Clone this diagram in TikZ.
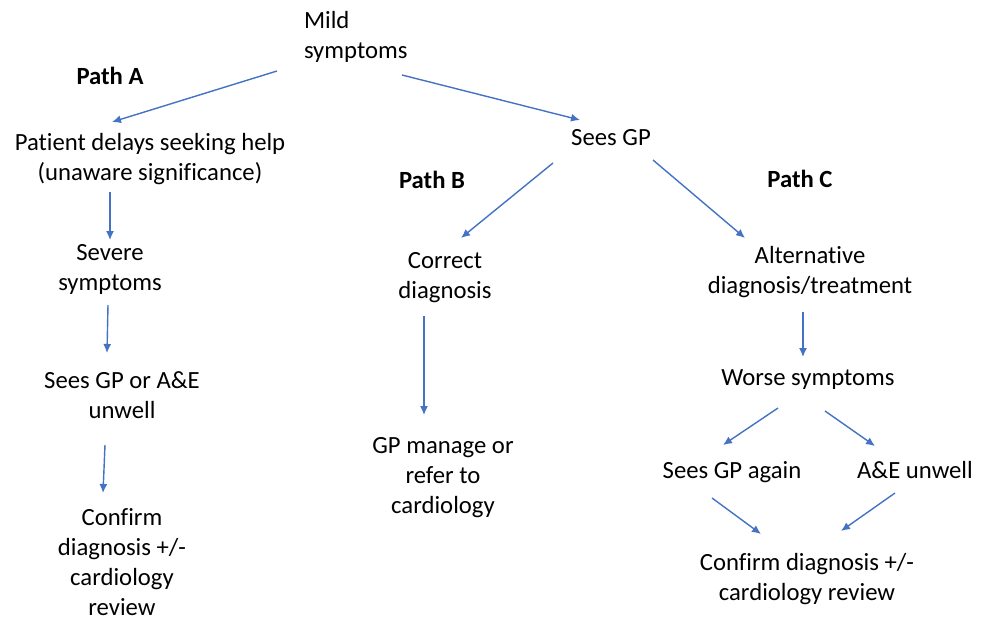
\documentclass[tikz,border=0pt]{standalone}
\usepackage{fontspec}
\setmainfont[Ligatures=NoCommon]{Carlito}
\usetikzlibrary{arrows.meta,calc}
\definecolor{arrblue}{HTML}{4472C4}
\begin{document}
\begin{tikzpicture}[x=1pt,y=-1pt,
  lbl/.style={inner sep=0pt,outer sep=0pt,align=center,anchor=base,font=\fontsize{24.7}{30}\selectfont},
  pathlbl/.style={lbl,font=\fontsize{24.7}{30}\selectfont\bfseries},
  arr/.style={draw=arrblue,line width=1.4pt,-{Latex[length=9pt,width=8pt]}}]
\useasboundingbox (0,0) rectangle (989,622);
% multi-line nodes: base anchor = baseline of the last line
\node[lbl,align=left,anchor=base west] (mild) at (304,58) {Mild\\symptoms};
\node[pathlbl] (pathA) at (110,84) {Path A};
\node[pathlbl] (pathB) at (432,188) {Path B};
\node[pathlbl] (pathC) at (800,187) {Path C};
\node[lbl] (pat) at (150,180) {Patient delays seeking help\\(unaware significance)};
\node[lbl] (seesgp) at (611,145) {Sees GP};
\node[lbl] (severe) at (110,290) {Severe\\symptoms};
\node[lbl] (correct) at (445,298) {Correct\\diagnosis};
\node[lbl] (altdx) at (810,293) {Alternative\\diagnosis/treatment};
\node[lbl] (worse) at (808,385) {Worse symptoms};
\node[lbl] (seesae) at (122,418) {Sees GP or A\&E\\unwell};
\node[lbl] (gpman) at (443,513) {GP manage or\\refer to\\cardiology};
\node[lbl] (seesagain) at (732,478) {Sees GP again};
\node[lbl] (aeunwell) at (915,478) {A\&E unwell};
\node[lbl] (confA) at (122,615) {Confirm\\diagnosis +/-\\cardiology\\review};
\node[lbl] (confC) at (807,600) {Confirm diagnosis +/-\\cardiology review};

\draw[arr] ($(mild.base west)+(-27,13)$) -- ($(pat.base)+(-38,-58)$);
\draw[arr] ($(mild.base west)+(98,17)$) -- ($(seesgp.base)+(-31,-25)$);
\draw[arr] ($(pat.base)+(-40,12)$) -- ($(severe.base)+(0,-50)$);
\draw[arr] ($(severe.base)+(-2,15)$) -- ($(seesae.base)+(-15,-65)$);
\draw[arr] ($(seesae.base)+(-17,27)$) -- ($(confA.base)+(-19,-122)$);
\draw[arr] ($(seesgp.base)+(-58,18)$) -- ($(correct.base)+(16,-60)$);
\draw[arr] ($(seesgp.base)+(42,15)$) -- ($(altdx.base)+(-65,-55)$);
\draw[arr] ($(correct.base)+(-21,18)$) -- ($(gpman.base)+(-19,-98)$);
\draw[arr] ($(altdx.base)+(-7,19)$) -- ($(worse.base)+(-5,-28)$);
\draw[arr] ($(worse.base)+(-30,23)$) -- ($(seesagain.base)+(-9,-33)$);
\draw[arr] ($(worse.base)+(17,26)$) -- ($(aeunwell.base)+(-40,-32)$);
\draw[arr] ($(seesagain.base)+(-20,20)$) -- ($(confC.base)+(-46,-66)$);
\draw[arr] ($(aeunwell.base)+(-20,15)$) -- ($(confC.base)+(34,-69)$);
\end{tikzpicture}
\end{document}
